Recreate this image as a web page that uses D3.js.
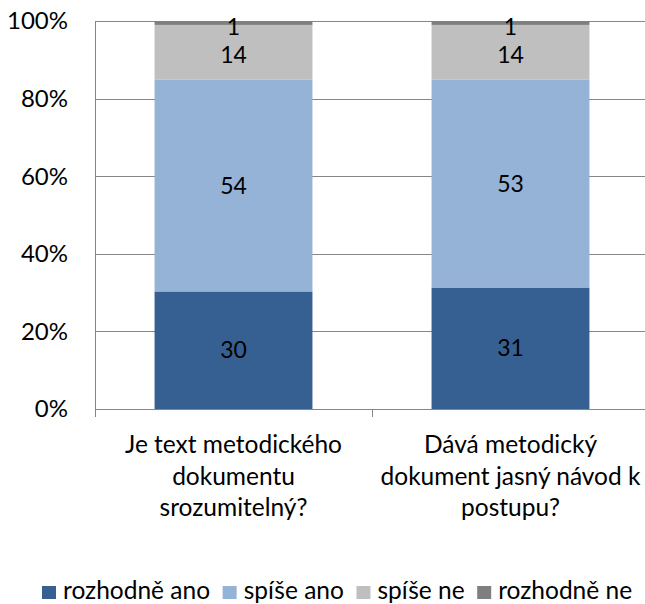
<!DOCTYPE html>
<html>
<head lang="cs">
  <meta charset="utf-8">
  <title>Stacked 100% chart</title>
  <script src="https://d3js.org/d3.v7.min.js" charset="utf-8"></script>
  <style>
    body { margin: 0; background: #fff; }
    text { font-family: Lato, "Open Sans", sans-serif; fill: #000; }
  </style>
</head>
<body>
  <script>
    // data (counts per answer)
    var categories = [
      ["Je text metodického", "dokumentu", "srozumitelný?"],
      ["Dává metodický", "dokument jasný návod k", "postupu?"]
    ];
    var seriesNames = ["rozhodně ano", "spíše ano", "spíše ne", "rozhodně ne"];
    var seriesColors = ["#376092", "#95b3d7", "#bfbfbf", "#7f7f7f"];
    var rozhodneAno = [30, 31];
    var spiseAno = [54, 53];
    var spiseNe = [14, 14];
    var rozhodneNe = [1, 1];
    var yTicks = [0, 0.2, 0.4, 0.6, 0.8, 1];

    var width = 645;
    var height = 604;
    var margin = {top: 21, right: -4, bottom: 195, left: 95};

    var svg = d3.select("body")
      .append("svg")
      .attr("width", width)
      .attr("height", height);

    var series = [rozhodneAno, spiseAno, spiseNe, rozhodneNe];
    var rows = categories.map(function(c, i) {
      var row = {i: i};
      seriesNames.forEach(function(s, k) { row[s] = series[k][i]; });
      return row;
    });

    var stack = d3.stack()
      .keys(seriesNames)
      .offset(d3.stackOffsetExpand);
    var layers = stack(rows);

    var x = d3.scaleBand()
      .domain(d3.range(categories.length))
      .range([margin.left, width - margin.right])
      .paddingInner(0.43)
      .paddingOuter(0.215);

    var xOuter = d3.scaleBand()
      .domain(d3.range(categories.length))
      .range([margin.left, width - margin.right]);

    var y = d3.scaleLinear()
      .domain([0, 1])
      .range([height - margin.bottom, margin.top]);

    // gridlines
    svg.append("g")
      .selectAll("line")
      .data(yTicks)
      .enter().append("line")
        .attr("x1", margin.left)
        .attr("x2", width - margin.right)
        .attr("y1", function(d) { return Math.round(y(d)) + 0.5; })
        .attr("y2", function(d) { return Math.round(y(d)) + 0.5; })
        .style("stroke", "#868686")
        .style("stroke-width", 1);

    // y axis line
    svg.append("line")
      .attr("x1", margin.left + 0.5)
      .attr("x2", margin.left + 0.5)
      .attr("y1", y(1))
      .attr("y2", y(0))
      .style("stroke", "#868686");

    // y tick labels
    svg.append("g")
      .selectAll("text")
      .data(yTicks)
      .enter().append("text")
        .attr("x", margin.left - 27)
        .attr("y", function(d) { return y(d); })
        .attr("dy", "0.35em")
        .attr("text-anchor", "end")
        .style("font-size", "24px")
        .text(d3.format(".0%"));

    // category tick marks
    var catTicks = d3.range(categories.length + 1).map(function(i) {
      return i < categories.length ? xOuter(i) : xOuter(i - 1) + xOuter.bandwidth();
    });
    svg.append("g")
      .selectAll("line")
      .data(catTicks)
      .enter().append("line")
        .attr("x1", function(d) { return Math.round(d) + 0.5; })
        .attr("x2", function(d) { return Math.round(d) + 0.5; })
        .attr("y1", y(0))
        .attr("y2", y(0) + 8)
        .style("stroke", "#868686");

    // bars
    var layer = svg.append("g")
      .selectAll("g")
      .data(layers)
      .enter().append("g")
        .style("fill", function(d, k) { return seriesColors[k]; });

    layer.selectAll("rect")
      .data(function(d) { return d; })
      .enter().append("rect")
        .attr("x", function(d, i) { return x(i); })
        .attr("width", x.bandwidth())
        .attr("y", function(d) { return y(d[1]); })
        .attr("height", function(d) { return y(d[0]) - y(d[1]); });

    // value labels: centred in the segment, pushed apart from the top down
    var labelSize = 23;
    var labelGap = labelSize * 1.21;
    var labelY = categories.map(function(c, i) {
      var ys = [];
      var prev = margin.top + 6 - labelGap;
      for (var k = layers.length - 1; k >= 0; k--) {
        var p = layers[k][i];
        var c0 = (y(p[0]) + y(p[1])) / 2;
        var yy = Math.max(c0, prev + labelGap);
        ys[k] = yy;
        prev = yy;
      }
      return ys;
    });

    layer.selectAll("text")
      .data(function(d) {
        return d.map(function(p) { p.key = d.key; p.k = d.index; return p; });
      })
      .enter().append("text")
        .attr("x", function(d, i) { return x(i) + x.bandwidth() / 2; })
        .attr("y", function(d, i) { return labelY[i][d.k]; })
        .attr("dy", "0.35em")
        .attr("text-anchor", "middle")
        .style("font-size", labelSize + "px")
        .text(function(d) { return d.data[d.key]; });

    // category labels
    svg.append("g")
      .selectAll("text")
      .data(categories)
      .enter().append("text")
        .attr("text-anchor", "middle")
        .style("font-size", "24.5px")
        .each(function(lines, i) {
          var t = d3.select(this);
          lines.forEach(function(line, j) {
            t.append("tspan")
              .attr("x", xOuter(i) + xOuter.bandwidth() / 2)
              .attr("y", y(0) + 44 + j * 31.7)
              .text(line);
          });
        });

    // legend
    var legend = svg.append("g")
      .attr("transform", "translate(0," + 599 + ")");
    var lx = 42;
    seriesNames.forEach(function(name, k) {
      legend.append("rect")
        .attr("x", lx)
        .attr("y", -13)
        .attr("width", 14)
        .attr("height", 13)
        .style("fill", seriesColors[k]);
      var t = legend.append("text")
        .attr("x", lx + 21)
        .attr("y", 0)
        .style("font-size", "24.5px")
        .text(name);
      lx += 21 + t.node().getComputedTextLength() + 12.6;
    });
  </script>
</body>
</html>
